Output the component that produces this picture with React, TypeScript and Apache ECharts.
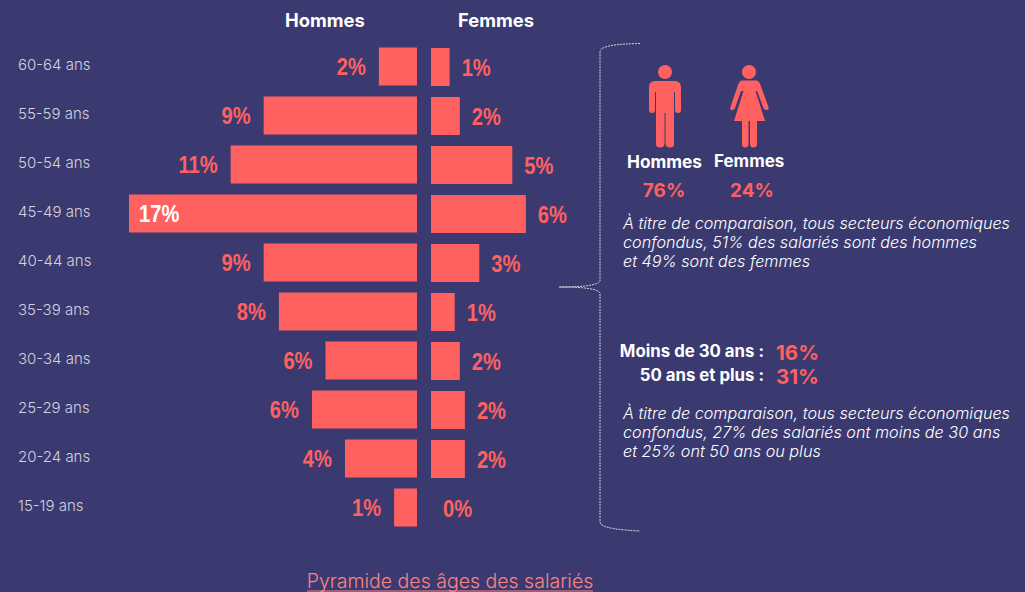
import React, { useEffect, useRef } from "react";
import * as echarts from "echarts";

const ageGroups = ["60-64 ans", "55-59 ans", "50-54 ans", "45-49 ans", "40-44 ans", "35-39 ans", "30-34 ans", "25-29 ans", "20-24 ans", "15-19 ans"];
const hommes = [2.25, 9.05, 11.0, 17.0, 9.05, 8.15, 5.4, 6.2, 4.25, 1.35];
const femmes = [1.1, 1.7, 4.8, 5.6, 2.85, 1.4, 1.7, 2.0, 2.0, 0];
const hommesLabels = ["2%", "9%", "11%", "17%", "9%", "8%", "6%", "6%", "4%", "1%"];
const femmesLabels = ["1%", "2%", "5%", "6%", "3%", "1%", "2%", "2%", "2%", "0%"];
const paragraph1 = ["À titre de comparaison, tous secteurs économiques", "confondus, 51% des salariés sont des hommes", "et 49% sont des femmes"];
const paragraph2 = ["À titre de comparaison, tous secteurs économiques", "confondus, 27% des salariés ont moins de 30 ans", "et 25% ont 50 ans ou plus"];

const BG = "#3b3a70";
const RED = "#ff6161";
const FONT = "Inter, Lato, sans-serif";
const NARROW = "'Liberation Sans', sans-serif";

const MAN_D = "M655 81 L675 81 Q681 81 681 88 L681 110 Q681 113 678 113 Q675 113 675 110 L675 92 L674 92 L674 144 Q674 147.5 670 147.5 Q666 147.5 665.5 144 L665.5 113 L664.5 113 L664.5 144 Q664 147.5 660 147.5 Q656 147.5 656 144 L656 92 L655 92 L655 110 Q655 113 652 113 Q649 113 649 110 L649 88 Q649 81 655 81 Z";
const WOMAN_D = "M742 80.5 L756 80.5 Q759 80.5 760.5 85 L768.5 107 Q769 110 766.5 110 Q764.5 110.5 763.5 108 L757 91 L755.5 91 L765 121 L757 121 L757 144 Q757 147.5 753.5 147.5 Q750 147.5 750 144 L750 121 L748.5 121 L748.5 144 Q748.5 147.5 745 147.5 Q742 147.5 742 144 L742 121 L734 121 L743.5 91 L741 91 L735 108 Q734 110.5 732 110 Q729.5 110 730.5 107 L738 85 Q739.5 80.5 742 80.5 Z";
const BRACE_D = "M640 43.5 C620 44 600 45 600 52 L600 281 C598 285 585 287 559 287 C585 287 598 289 600 293 L600 522 C600 528 620 530 640 531";

echarts.graphic.registerShape("manIcon", echarts.graphic.extendPath(MAN_D, {}));
echarts.graphic.registerShape("womanIcon", echarts.graphic.extendPath(WOMAN_D, {}));
echarts.graphic.registerShape("braceLine", echarts.graphic.extendPath(BRACE_D, {}));

function txt(x: number, y: number, text: string, font: any) {
  return {
    type: "text",
    x,
    y,
    style: { text, fill: "#fff", fontFamily: FONT, fontSize: 15, verticalAlign: "middle", align: "left", ...font },
  };
}

function labelSeries(values: number[], labels: string[], axisIndex: number, side: number) {
  return {
    type: "custom",
    xAxisIndex: axisIndex,
    yAxisIndex: axisIndex,
    data: values.map((v, i) => [v, i]),
    encode: { x: 0, y: 1 },
    silent: true,
    clip: false,
    z: 5,
    renderItem(params: any, api: any) {
      const i = api.value(1);
      const p = api.coord([api.value(0), i]);
      const text = labels[params.dataIndex];
      const inside = text === "17%";
      const x = inside ? p[0] + 10 : p[0] + side * (side > 0 ? 12 : 13);
      const left = inside || side > 0;
      return {
        type: "text",
        x,
        y: p[1] + 0.5,
        scaleX: 0.84,
        style: {
          text,
          fontFamily: NARROW,
          fontWeight: "bold",
          fontSize: 24,
          fill: inside ? "#fff" : RED,
          align: left ? "left" : "right",
          verticalAlign: "middle",
        },
      };
    },
  };
}

export default function App() {
  const ref = useRef<HTMLDivElement>(null);
  useEffect(() => {
    document.body.style.margin = "0";
    document.body.style.background = BG;
    const chart = echarts.init(ref.current!, undefined, { renderer: "svg" });
    const italic = { fontStyle: "italic", fontSize: 16.2, fontWeight: 300, fill: "#ffffff" };
    chart.setOption({
      animation: false,
      backgroundColor: BG,
      grid: [
        { left: 129, width: 288, top: 42, height: 490 },
        { left: 431, width: 288, top: 42.5, height: 490 },
        { left: 129, width: 288, top: 40, height: 490 },
      ],
      xAxis: [
        { type: "value", gridIndex: 0, min: 0, max: 17, inverse: true, show: false },
        { type: "value", gridIndex: 1, min: 0, max: 17, show: false },
        { type: "value", gridIndex: 2, min: 0, max: 17, show: false },
      ],
      yAxis: [
        {
          type: "category", gridIndex: 0, data: ageGroups, inverse: true, position: "right",
          axisLine: { show: false }, axisTick: { show: false },
          axisLabel: { show: false },
        },
        {
          type: "category", gridIndex: 1, data: ageGroups, inverse: true,
          axisLine: { show: false }, axisTick: { show: false },
          axisLabel: { show: false },
        },
        {
          type: "category", gridIndex: 2, data: ageGroups, inverse: true,
          axisLine: { show: false }, axisTick: { show: false },
          axisLabel: {
            show: true, align: "left", margin: 111, color: "#d2d2de",
            fontFamily: FONT, fontSize: 15, fontWeight: 300, verticalAlign: "middle",
          },
        },
      ],
      series: [
        {
          type: "bar", xAxisIndex: 0, yAxisIndex: 0, barWidth: 38, itemStyle: { color: RED },
          data: hommes,
        },
        {
          type: "bar", xAxisIndex: 1, yAxisIndex: 1, barWidth: 38, itemStyle: { color: RED },
          data: femmes,
        },
        labelSeries(hommes, hommesLabels, 0, -1),
        labelSeries(femmes, femmesLabels, 1, 1),
      ],
      graphic: [
        txt(285, 20, "Hommes", { fontWeight: "bold", fontSize: 18.4 }),
        txt(458, 20, "Femmes", { fontWeight: "bold", fontSize: 18.4 }),
        { type: "braceLine", style: { fill: "none", stroke: "#d5d5e2", lineWidth: 1, lineDash: [2, 1] } },
        { type: "circle", shape: { cx: 665, cy: 72, r: 7 }, style: { fill: RED } },
        { type: "manIcon", style: { fill: RED } },
        { type: "circle", shape: { cx: 749, cy: 72, r: 7 }, style: { fill: RED } },
        { type: "womanIcon", style: { fill: RED } },
        txt(627, 161, "Hommes", { fontWeight: "bold", fontSize: 17.3 }),
        txt(714, 161, "Femmes", { fontWeight: "bold", fontSize: 17 }),
        txt(664, 190, "76%", { fontWeight: "bold", fontSize: 19, fill: RED, align: "center" }),
        txt(752, 190, "24%", { fontWeight: "bold", fontSize: 19, fill: RED, align: "center" }),
        ...paragraph1.map((line, i) => txt(623, 223 + i * 19, line, italic)),
        txt(764, 351, "Moins de 30 ans :", { fontWeight: "bold", fontSize: 16.8, align: "right" }),
        txt(764, 375, "50 ans et plus :", { fontWeight: "bold", fontSize: 16.8, align: "right" }),
        txt(776, 352, "16%", { fontWeight: "bold", fontSize: 20.5, fill: RED }),
        txt(776, 376, "31%", { fontWeight: "bold", fontSize: 20.5, fill: RED }),
        ...paragraph2.map((line, i) => txt(623, 413 + i * 19, line, italic)),
        txt(450, 581, "Pyramide des âges des salariés", { fontSize: 19.5, fontWeight: 300, fill: "#ff8282", align: "center" }),
        { type: "line", shape: { x1: 307, y1: 591, x2: 593, y2: 591 }, style: { stroke: "#ff8282", lineWidth: 1 } },
      ],
    });
    return () => chart.dispose();
  }, []);
  return <div ref={ref} style={{ width: 1025, height: 592 }} />;
}
